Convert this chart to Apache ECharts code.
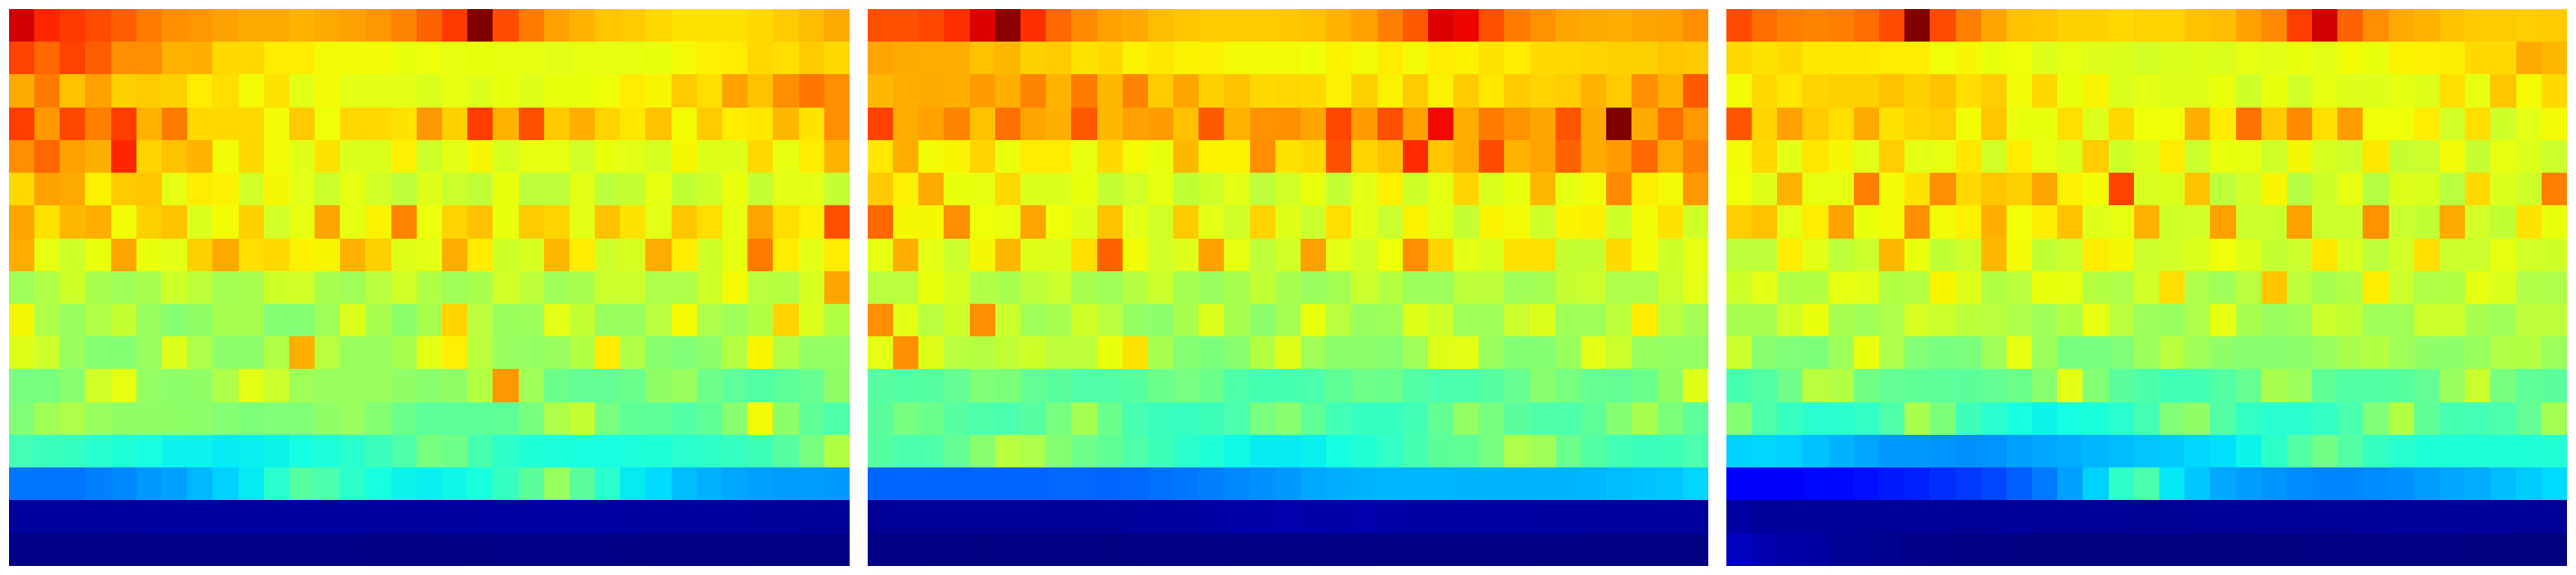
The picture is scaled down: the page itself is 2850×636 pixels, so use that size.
<!DOCTYPE html>
<html>
<head>
<meta charset="utf-8">
<style>html,body{margin:0;padding:0;background:#fff}#c{width:2850px;height:636px}</style>
<script src="https://cdn.jsdelivr.net/npm/echarts@6/dist/echarts.min.js"></script>
</head>
<body>
<div id="c"></div>
<script>
// Cell values, on a 0-100 jet scale. Each row has 33 columns, 17 rows top to bottom.
const panelA = [
[93,87,85,83,81,78,76,75,74,73,73,72,73,74,75,77,80.5,85,100,83,78,74,72,70,69.5,68,67,67,67,68,69.5,71,73],
[84,80,84,81,76,76,72,72.5,68,68,66,66,64.5,64.3,64.3,63.5,63.8,63,63.5,63,63,62.5,63,63,63,63.5,64.5,65.5,66,68,67.5,69.5,68],
[73,78,70.5,74,69,69.5,69,66,67.5,64.5,67,62.5,64.5,62.5,62.5,62.5,61.5,63,62,63.5,62,63.5,63.5,64,66,65,69.5,67.5,74,70.5,76,78.5,76],
[84.5,75,83.5,77.5,84.5,72,78,68,68,68,64.3,69.5,64,68,68,67,75,69,84.5,72,82.5,69.5,72.5,68.5,66.5,70.5,64.5,69.5,66,66.5,71.5,67,76],
[76,80,74,72.5,87,68.5,70.5,72,64.3,68,64.3,62.3,67,61.8,61.5,65.5,60,62.5,64.8,61,63,63,60.5,63.5,62.5,61,64.8,62,62,68,63,66,72],
[68,74,73,65.5,69.5,70,63,66,65.5,60.5,64.7,62.5,59.5,62.8,60.5,58,62.3,59.5,58.2,63.5,58,58,62.5,58,59,63,58.5,60,63.5,59,62.5,62.5,59],
[73.5,67,71.5,72.5,64.3,69,70.5,61.8,64.3,69,60.5,63,73.5,63,65.3,77,63.8,68.5,70.5,63.5,69.5,68.5,62.5,70.5,67,62.5,70,67.5,63,73.5,67.5,65.5,82.5],
[72.8,63,60,63.5,73.5,63.5,62.5,69,73,67.5,68,65.5,65,72,69,62,62.6,72.8,66,60,61,71.5,66,60,61,72.8,66,60,63,78,66,62.5,66],
[54.5,56.5,60,55.5,54.5,55.5,60,58,55,55.5,60,60.5,55.5,54.5,57.5,60.5,56.5,54.5,55.5,60.5,58,54.5,55.5,59.5,59.5,56,56,60,64.5,57.5,57,61,73.5],
[64.8,56,53.5,56.5,59,53.5,51.5,52.5,55.5,55.5,51,51,54.5,61.8,55.5,52,55.5,68.5,57.8,53.5,54,62.5,59,53.5,53.5,57.5,64.5,56,54.5,56.8,68.5,61.8,56.8],
[62,60,53.5,51,51,53.5,61.8,56,52,52,56.5,72.5,57.5,53.5,53.5,55.5,62.6,65.5,57.5,53.5,53,53.5,56.8,66,56.5,51.5,50.5,52,57,65,56.5,53,53],
[49.5,49.5,51.5,60.5,63,53,52,52.5,56,62.5,59.5,54.5,53.5,53.5,53.5,52.5,51.8,52.5,56.8,75,54.5,48,47,47,48,52.5,53.5,48.5,46.3,45,46.3,47.5,52.5],
[50.5,54.5,56,53.5,52.5,52.5,52.5,52,51,50,50.5,50.5,52.5,53.5,51,48,46.3,46.3,46.3,46.5,49.5,56,59,49.5,46.5,46.3,45,46.5,51.5,64.5,52,46.5,44.5],
[43.3,42,41.5,39.7,38.8,37.8,36.3,36.3,35.5,36,36.5,37.5,38.5,40,42,44.5,49.5,48.5,43.5,40.5,38.8,38.3,37.8,37.8,38.3,38.8,40,40.5,41.5,42.5,45.5,49.5,56.8],
[24,24,24,25,25.8,27.5,28.2,30.5,33,35.5,40,45.5,44,40.5,37.8,36.5,36,36.8,38,41.5,46,53.5,46,40,35.5,34,31,29.8,28.8,28.2,27.8,27.8,27.5],
[2.6,2.6,2.6,2.6,2.6,2.7,2.8,2.8,2.7,2.7,2.7,2.7,2.7,2.7,2.7,2.7,2.7,2.8,2.9,3,3,3,3,3,2.8,2.6,2.5,2.5,2.5,2.4,2.3,2.2,2.2],
[0.7,0.7,0.7,0.7,0.6,0.7,0.6,0.6,0.7,0.7,0.7,0.7,0.6,0.6,0.4,0.4,0.4,0.4,0.5,0.6,0.6,0.6,0.6,0.6,0.5,0.4,0.4,0.4,0.4,0.3,0.3,0.3,0.3]
];
const panelB = [
[82.5,82.5,83.5,86,92,99,86,80,76.5,74,73,71,70,69.5,69.5,69.5,69.8,70.5,72,74,77.5,81.5,92,90.5,82.5,78,75.5,73.5,73,72.8,73.5,74,76],
[73.5,73,72.8,72.8,70.5,71.5,69,69.5,67,68,65.5,66.5,65.3,65.5,64.5,64.5,64.5,64,65.3,64.5,66,64.5,66,65.3,67,66,68,68,68.5,69,69,70,69.5],
[71.5,72.8,73,72.5,74.5,72.5,77,72,78,71.5,77,69.5,73.5,69,70.5,68,68.2,68,65.5,69,65.3,69.5,65.5,69.5,66.5,69.5,68.5,69.3,72,69.5,76,72,81.5],
[84,72.8,74,77,70.5,79,73.5,72.5,81.5,71.5,74,74.5,70.5,81.5,72,75.5,75.8,73.5,83.5,74.5,82.5,74,90,72.8,78,75.5,73.5,82,73,100,73,79.5,75],
[66.5,72.8,64.5,65.2,68.5,63.5,66,66,63,68,64.5,63.5,71.5,65.3,65.3,76,67,68,82.5,68.5,70.5,86.5,70,72.8,83,72,73.5,80.5,73,74.5,80,72.8,77.5],
[69.5,65.5,73,63.5,63,68,61.8,61.8,63.5,59,60.5,63,58.5,60,62.5,58,60.5,63.5,59,62.5,65.5,60,63,68.5,61.8,63.2,71.5,63,64.3,76.5,65.8,64.5,75],
[80,64.8,64.8,76,64,63.5,73.5,64,62,70.5,62.5,60.5,69.5,62.5,60.2,68.5,62,59.5,67.5,62.5,59.5,65.3,62.5,59,65.3,64.5,60,65.2,65.7,60,64.3,67,60],
[63,72.5,62.5,59.5,64.7,71.5,62,61.8,67.5,80.5,64.3,60.5,62,74,63,58,60.5,74,62.5,60.5,64,76,68.5,62.5,61.5,67,67.5,59,59,68,64.3,60,63],
[57.5,57.5,63.5,61,56.5,55.5,58,59.5,55.5,54.5,57,59.5,55,53.5,55.5,58.5,55.5,53.5,55,59.5,57,54,54,58,58,54.5,55,59,59.5,56,56,59.5,62.5],
[76,62.5,57.5,60,76,59.5,54.5,55.5,60,57.5,53,52,55.5,61.8,55.5,52,55,63.5,57.5,53.5,54,62,60,54.5,54.5,59.5,61.8,54.5,54.5,58,66,57.5,55],
[62.8,76,62,57.5,57,58.5,60,58,58,63.5,67,55.5,51,50,51.5,57,62,54.5,52,52,51.5,54.5,62,62.5,53.5,51,51,53.5,62.5,59.5,53.5,53,53],
[45.5,45,45.5,47,50.5,50,47,46,44.8,44.8,45.5,48,49.5,48,44.5,43.5,43.5,44,46.5,48.5,48,45,44,44,45.5,47.5,51.5,49.5,47.5,47,48,52.5,62],
[46,49.5,48,45.5,44.5,44,45.5,49.5,55,48,43.5,42,41.5,42.5,44,49.5,51.5,46.5,43,41.5,41.5,43,47,53,49.5,46,44.5,44.5,46.3,51,55.5,50,46.3],
[45.5,44,44.5,47,51.5,57.5,56,51,48.5,46.5,44.5,42.5,40.5,38.8,37,35.7,35.5,36,37.5,39.2,41,43.5,46,46.5,49.5,56,54.5,48,45,43,42,42.5,44],
[22.5,22.5,22.5,22.5,22.5,22.5,22.5,22.7,22.7,22.5,22.7,23.5,24.2,25,25.8,26.6,27.6,29,29.5,30,30.3,30.3,30.3,30,30,30,30,30,30.3,31,31.5,32,33.5],
[2,2,2,2,2,2,2,2,2,2,2.5,2.5,2.5,3.2,3.5,3.6,3.8,3.6,3.6,3.8,3.4,3.2,3.2,3.2,3,3,2.8,2.8,2.7,2.6,2.6,2.5,2.5],
[0.4,0.4,0.3,0.2,0.1,0.3,0.3,0.3,0.2,0.1,0.3,0.4,0.4,0.4,0.3,0.3,0.3,0.3,0.4,0.4,0.5,0.5,0.5,0.5,0.4,0.4,0.3,0.3,0.3,0.3,0.3,0.2,0.2]
];
const panelC = [
[83,79.5,77.5,77,77.5,79.5,83,100,83,77.5,73.5,70.5,70,69,69,68,68.8,68.5,70.5,71,74,76.5,84.5,93,80.5,76,73,72,70.5,69.5,69.5,69.3,69.5],
[68,67,68,66.5,66.5,66.5,66,66,64,64.8,63.5,64,62,63,62,61.8,60.8,61.5,62,61.5,63,62.5,63.5,62.5,64.3,63.5,65.3,65.5,65.8,68,68,73,71.5],
[64.3,68,66.5,68.5,69,69,70.5,69,70.5,67.5,69.3,64.3,68,63.5,65.2,61.8,62.6,62,62,63.5,60,63.5,60.5,63,61.8,62,63,62,67.5,63,70,64.5,68],
[82,68.5,74,69.5,67.5,73,67,68.5,69.3,64.3,70,63.5,63.5,67.5,61.8,68,64,64,72.5,66,79,69.5,76.5,67.5,74.5,64,64,66,60.5,67.5,60,62.5,64.5],
[64.3,68,62.5,66.5,64.8,62.5,69.3,62.5,63,66.5,60.5,66,63,61.5,69.3,60,61.9,66,59.5,63.5,63,60,64.7,61,60,66.5,59,59.5,64.3,59,63,61.8,59.5],
[64,62,72,63,63,77.5,64.3,67,76,68,70,69,73.5,65.5,64.3,84,61.2,61.5,70.5,58,60.5,65,57,60,63,57,62,61.5,57.5,68,61.8,60,77.5],
[69.3,70.5,62.5,66,74,63.5,64.3,76,64.3,65.5,72.5,64,65.8,70.5,62,63,72,60,60.5,74,59.5,59.5,74,59.5,59.5,75.5,59.5,58.5,73,60.5,58.5,67,63.5],
[58,58,66,62.5,58,59.5,71.5,63.5,58.5,60,71.5,64.3,58.5,59.5,66,64.7,59.5,60.5,61.8,64,62,59,59.5,66.5,61.5,58,60.5,67.5,59.5,59.5,63,60.5,60],
[60,62.5,56.8,56.8,63,62.5,56.8,57,65.2,62,56.8,57.5,63.5,63,57,56,60.5,67.5,56,54.5,57.5,70,58,55.5,56.8,65.8,59.5,56.5,56.8,63,61.8,56.5,56],
[55.5,55.5,60.5,63.5,55.5,54.5,56,61,59.5,58,57.5,56,54.5,56.8,63,57.5,54,53.5,56,63,55.5,53.5,54.5,59.5,58.5,54.5,54.5,59.5,59.5,55.5,54.5,58,58],
[59.5,51.5,50.5,50,54,63.5,56,51,49.5,50,54.5,63,54,49.5,49.5,50.5,54,57.5,54.5,52.5,51.5,51.5,52,53.5,55.5,56.8,54.5,52.5,52,53.5,56.5,57,54],
[43.5,45,48.5,57.5,56.8,49,47,46.5,46.3,46,47,48,51.5,62.5,51,46,44.3,43,43,45,47.5,55.5,54,46.5,45,45,45.5,47,53.5,59.5,49.5,46.5,46],
[51,44.5,41.5,40,40,41,44.5,55.5,50,42.5,40,37.8,36.5,37.5,38.3,40,43.3,50.5,52.5,45,41,40,40,41,44,50.5,56.8,46.5,43.5,43,44,47,55],
[33,33.5,33,31.5,30,28.8,27.5,27.5,27,26.6,27,28.2,28.8,29.5,30.3,31,31.8,32.5,33.5,34.5,36.5,40.5,45,49,45,41.5,39.7,38.8,38.8,38.8,38.8,38.8,39.2],
[11.5,11.5,12,13,13.2,14,15,15.5,17,18,19.5,21.9,24.5,28.2,33,40.5,44,35.3,32,29,27.8,27,26.2,25.6,25.6,26.2,26.6,27.8,28.8,29.5,31,32.5,34],
[3,2.4,2.2,2.2,1.9,1.9,1.9,2,2,2,2.2,2.3,2.2,2.1,2,1.9,1.8,1.8,1.9,2,2,2,2,2,2.1,2.2,2.4,2.4,2.3,2.2,2.2,2.1,2.1],
[5.5,4,3.5,3,2,1.6,1.3,0.8,0.6,0.3,0.3,0,0,0,0,0,0,0,0,0,0,0.1,0.1,0.2,0.2,0.2,0.2,0.2,0.2,0.1,0.1,0,0]
];
const columnLabels = Array.from({length: 33}, (_, i) => String(i));
const rowLabels = Array.from({length: 17}, (_, i) => String(i));

// Jet colormap as colour stops for the visual map
function seg(v, pts) {
  for (let i = 1; i < pts.length; i++) {
    if (v <= pts[i][0]) {
      const t = (v - pts[i-1][0]) / (pts[i][0] - pts[i-1][0]);
      return pts[i-1][1] + t * (pts[i][1] - pts[i-1][1]);
    }
  }
  return pts[pts.length-1][1];
}
const rPts = [[0,0],[0.35,0],[0.66,1],[0.89,1],[1,0.5]];
const gPts = [[0,0],[0.125,0],[0.375,1],[0.64,1],[0.91,0],[1,0]];
const bPts = [[0,0.5],[0.11,1],[0.34,1],[0.65,0],[1,0]];
const jet = [];
for (let i = 0; i <= 400; i++) {
  const v = i / 400;
  const c = [rPts, gPts, bPts].map(p => Math.round(seg(v, p) * 255));
  jet.push('rgb(' + c.join(',') + ')');
}

// Cells snapped to whole pixels so that neighbours meet without anti-aliased seams
const snap = v => Math.round(v - 0.1);
function renderCell(params, api) {
  const centre = api.coord([api.value(0), api.value(1)]);
  const size = api.size([1, 1]);
  const x0 = snap(centre[0] - size[0] / 2), x1 = snap(centre[0] + size[0] / 2);
  const y0 = snap(centre[1] - size[1] / 2), y1 = snap(centre[1] + size[1] / 2);
  return {
    type: 'rect',
    shape: {x: x0, y: y0, width: x1 - x0, height: y1 - y0},
    style: {fill: api.visual('color'), stroke: null, lineWidth: 0}
  };
}

const panels = [panelA, panelB, panelC];
const lefts = [10, 960, 1910];
const chart = echarts.init(document.getElementById('c'), null, {renderer: 'canvas'});
chart.setOption({
  animation: false,
  backgroundColor: '#ffffff',
  tooltip: {show: false},
  grid: lefts.map(l => ({left: l, top: 10, width: 930, height: 616, containLabel: false})),
  xAxis: lefts.map((_, i) => ({type: 'category', gridIndex: i, data: columnLabels, show: false})),
  yAxis: lefts.map((_, i) => ({type: 'category', gridIndex: i, data: rowLabels, inverse: true, show: false})),
  visualMap: {show: false, min: 0, max: 100, dimension: 2, seriesIndex: [0, 1, 2], inRange: {color: jet}},
  series: panels.map((rows, i) => ({
    type: 'custom',
    coordinateSystem: 'cartesian2d',
    xAxisIndex: i,
    yAxisIndex: i,
    silent: true,
    progressive: 0,
    clip: false,
    encode: {x: 0, y: 1},
    renderItem: renderCell,
    data: rows.flatMap((row, y) => row.map((val, x) => [x, y, val]))
  }))
});
</script>
</body>
</html>
